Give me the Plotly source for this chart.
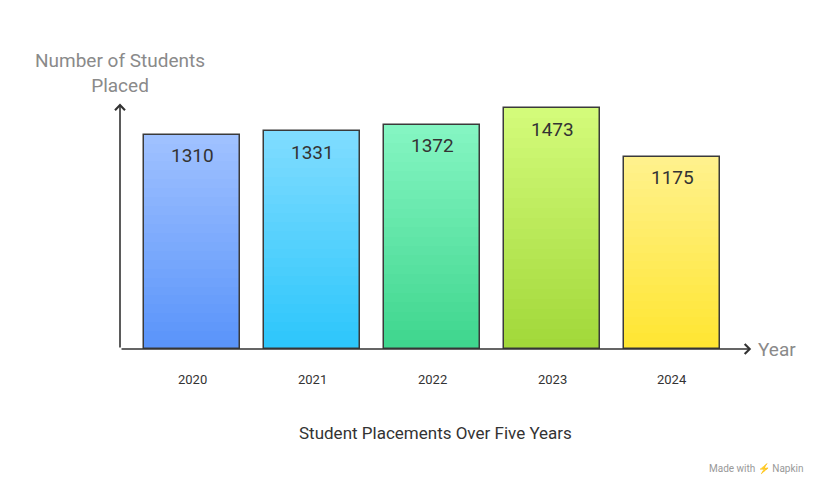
import plotly.graph_objects as go

years = ["2020", "2021", "2022", "2023", "2024"]
placed = [1310, 1331, 1372, 1473, 1175]
top_colors = ["#9fc1ff", "#7fdcff", "#84f5c2", "#d3fb7a", "#fff18c"]
bottom_colors = ["#5a94fa", "#2dc6fb", "#3fd68e", "#a2d83a", "#ffe632"]

def hex_rgb(h):
    return tuple(int(h[i:i + 2], 16) for i in (1, 3, 5))

def mix(a, b, t):
    a, b = hex_rgb(a), hex_rgb(b)
    return "rgb(%d,%d,%d)" % tuple(round(a[k] + (b[k] - a[k]) * t) for k in range(3))

x = list(range(len(years)))
fig = go.Figure()

# fake vertical gradient: overlay shrinking bars, top colour first
steps = 24
for s in range(steps):
    f = 1 - s / steps
    t = s / (steps - 1)
    fig.add_trace(go.Bar(
        x=x, y=[v * f for v in placed], width=0.8,
        marker=dict(color=[mix(top_colors[i], bottom_colors[i], t) for i in x], line_width=0),
        hoverinfo="skip", showlegend=False))

# outline
fig.add_trace(go.Bar(
    x=x, y=placed, width=0.8,
    marker=dict(color="rgba(0,0,0,0)", line=dict(color="#3a3a3a", width=1.5)),
    showlegend=False))

for i, v in enumerate(placed):
    fig.add_annotation(x=i, y=v, yshift=-21, text=str(v), showarrow=False,
                       font=dict(size=19, color="#333333"))
    fig.add_annotation(x=i, y=0, yshift=-30, text=years[i], showarrow=False,
                       font=dict(size=13, color="#333333"))

# axes with arrows
fig.add_annotation(x=4.66, y=0, ax=-0.6, ay=0, xref="x", yref="y", axref="x", ayref="y",
                   showarrow=True, arrowhead=4, arrowsize=1.2, arrowwidth=1.6, arrowcolor="#333333", text="")
fig.add_annotation(x=-0.6, y=1500, ax=-0.6, ay=0, xref="x", yref="y", axref="x", ayref="y",
                   showarrow=True, arrowhead=4, arrowsize=1.2, arrowwidth=1.6, arrowcolor="#333333", text="")
fig.add_annotation(x=1, xref="paper", xshift=6, y=0, yref="y", text="Year", showarrow=False,
                   xanchor="left", font=dict(size=19, color="#8a8a8a"))
fig.add_annotation(x=-0.6, y=1500, yshift=31, text="Number of Students<br>Placed", showarrow=False,
                   font=dict(size=19, color="#8a8a8a"))
fig.add_annotation(x=0.5, xref="paper", y=0, yshift=-84, yref="y", text="Student Placements Over Five Years",
                   showarrow=False, font=dict(size=17, color="#333333"))
fig.add_annotation(x=1, xref="paper", y=0, yref="paper", yshift=-128, xshift=56, xanchor="right",
                   text="Made with ⚡ Napkin", showarrow=False, font=dict(size=10, color="#999999"))

fig.update_layout(
    width=828, height=502, barmode="overlay", bargap=0,
    margin=dict(l=112, r=86, t=93, b=161),
    plot_bgcolor="white", paper_bgcolor="white",
    font=dict(family="Roboto"),
    xaxis=dict(range=[-0.6, 4.65], visible=False),
    yaxis=dict(range=[0, 1516], visible=False),
)

fig.write_html("out.html")
